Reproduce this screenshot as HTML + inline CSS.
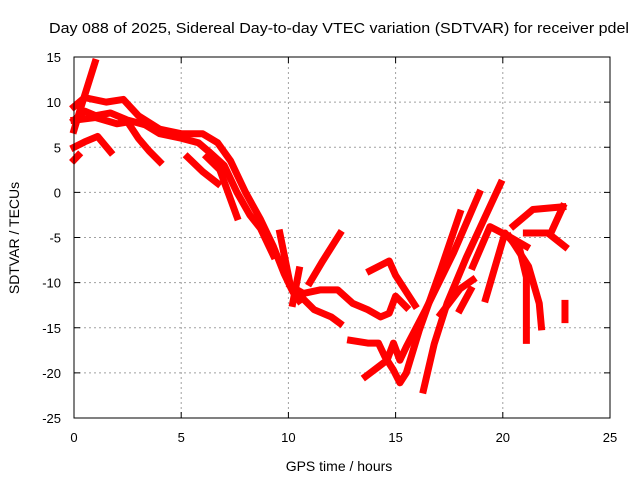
<!DOCTYPE html>
<html><head><meta charset="utf-8"><style>
html,body{margin:0;padding:0;background:#fff;}
svg{display:block;font-family:"Liberation Sans",sans-serif;}
</style></head><body>
<svg id="chart" width="640" height="480">
<rect width="640" height="480" fill="#fff"/>
<text x="339" y="33" font-size="15" text-anchor="middle" textLength="580" lengthAdjust="spacingAndGlyphs">Day 088 of 2025, Sidereal Day-to-day VTEC variation (SDTVAR) for receiver pdel</text>
<text x="339" y="471" font-size="14" text-anchor="middle">GPS time / hours</text>
<text transform="translate(19,238) rotate(-90)" font-size="14" text-anchor="middle">SDTVAR / TECUs</text>
<g id="grid"></g><g id="ticks"></g><g id="series"></g>
<rect x="74" y="57" width="536" height="361" fill="none" stroke="#000" stroke-width="1"/>
</svg>
<script>
const xTicks=[0,5,10,15,20,25];
const yTicks=[15,10,5,0,-5,-10,-15,-20,-25];
const tracks=[
[[0,6.9],[0.28,9.1],[0.65,11.9],[0.98,14.4]],
[[0,9.5],[0.5,10.5],[1.5,10],[2.3,10.3],[3,8.5],[4,7],[5,6.5],[6,6.5],[6.7,5.5],[7.3,3.5],[8,0],[8.7,-3],[9.3,-6],[9.8,-9],[10.2,-11],[10.5,-12]],
[[0,8],[0.5,9],[1,8.5],[1.7,8.8],[2.5,8],[3.3,7.5],[4,6.5],[5,6],[5.8,5.5],[6.3,4.5],[7,3],[7.6,0],[8.2,-2.5],[8.7,-4],[9.3,-7]],
[[0,8],[1,8.3],[2,7.6],[2.5,7.8],[3,6],[3.5,4.6],[4,3.4]],
[[0,5],[0.5,5.6],[1.1,6.2],[1.7,4.5]],
[[0,3.6],[0.2,4.1]],
[[5.3,3.9],[6,2.3],[6.7,1.0]],
[[6.2,3.9],[6.8,2.5],[7.6,-2.7]],
[[9.6,-4.5],[10.1,-10.4],[10.7,-11.2],[11.5,-10.8],[12.3,-10.8],[13,-12.3],[13.7,-13],[14.3,-13.8],[14.7,-13.4],[15,-11.5],[15.5,-12.7]],
[[10.1,-10.4],[11.2,-13],[12,-13.8],[12.4,-14.5]],
[[11,-10],[11.6,-7.6],[12.4,-4.6]],
[[10.5,-8.6],[10.2,-12.3]],
[[12.9,-16.4],[13.7,-16.7],[14.2,-16.7],[14.5,-18.2],[14.9,-19.7],[15.2,-21.1],[15.5,-20],[16.1,-15.3],[17.1,-8.6],[18,-2.3]],
[[13.6,-20.4],[14.6,-18.6],[14.9,-16.7],[15.2,-18.6],[15.5,-17.1],[16.4,-13],[17.7,-6.7],[18.9,-0.1]],
[[16.3,-21.9],[16.8,-16.8],[17.4,-12.3],[18.3,-7.2],[19.9,1]],
[[13.8,-8.7],[14.7,-7.6],[15,-9.2],[15.9,-12.5]],
[[17.1,-13.5],[18,-10.7],[18.6,-9.7]],
[[18,-13],[18.5,-10.8]],
[[18.6,-8.2],[19.4,-3.8],[20.3,-4.9],[21.1,-6]],
[[19.2,-11.8],[20.1,-4.5],[20.8,-6.4],[21.1,-9.4],[21.1,-16.4]],
[[20.3,-4.9],[21.2,-8.2],[21.7,-12.3],[21.8,-14.9]],
[[20.5,-3.7],[21.4,-1.9],[22.8,-1.6]],
[[22.3,-4.2],[22.8,-1.6]],
[[21.1,-4.5],[22.1,-4.5],[22.9,-6]],
[[22.9,-12.3],[22.9,-14.1]]
];
const X0=74,X1=610,Y0=418,Y1=57;
function sx(v){return X0+(v-0)/(25-0)*(X1-X0);}
function sy(v){return Y0-(v+25)/40*(Y0-Y1);}
const NS="http://www.w3.org/2000/svg";
const grid=document.getElementById('grid'),ticks=document.getElementById('ticks'),ser=document.getElementById('series');
function mk(tag,attrs,parent){const e=document.createElementNS(NS,tag);for(const k in attrs)e.setAttribute(k,attrs[k]);parent.appendChild(e);return e;}
xTicks.forEach(t=>{
  const x=sx(t);
  if(t>0&&t<25){const g=mk('line',{x1:x,x2:x,y1:Y1,y2:Y0,stroke:'#a0a0a0','stroke-dasharray':'2,3'},grid);
  
  }
  mk('line',{x1:x,x2:x,y1:Y0,y2:Y0-6,stroke:'#000'},ticks);
  mk('line',{x1:x,x2:x,y1:Y1,y2:Y1+6,stroke:'#000'},ticks);
  const l=mk('text',{x:x,y:Y0+24,'font-size':13,'text-anchor':'middle'},ticks);l.textContent=t;
  
  
});
yTicks.forEach(t=>{
  const y=sy(t);
  if(t<15&&t>-25){const g=mk('line',{x1:X0,x2:X1,y1:y,y2:y,stroke:'#a0a0a0','stroke-dasharray':'2,3'},grid);
  
  }
  mk('line',{x1:X0,x2:X0+6,y1:y,y2:y,stroke:'#000'},ticks);
  mk('line',{x1:X1,x2:X1-6,y1:y,y2:y,stroke:'#000'},ticks);
  const l=mk('text',{x:X0-13,y:y+5,'font-size':13,'text-anchor':'end'},ticks);l.textContent=t;
  
  
});
tracks.forEach(tr=>{
  const p=mk('polyline',{points:tr.map(d=>sx(d[0])+','+sy(d[1])).join(' '),fill:'none',stroke:'#ff0000','stroke-width':7,'stroke-linejoin':'round','stroke-linecap':'square'},ser);
  
  
});
</script>
</body></html>
